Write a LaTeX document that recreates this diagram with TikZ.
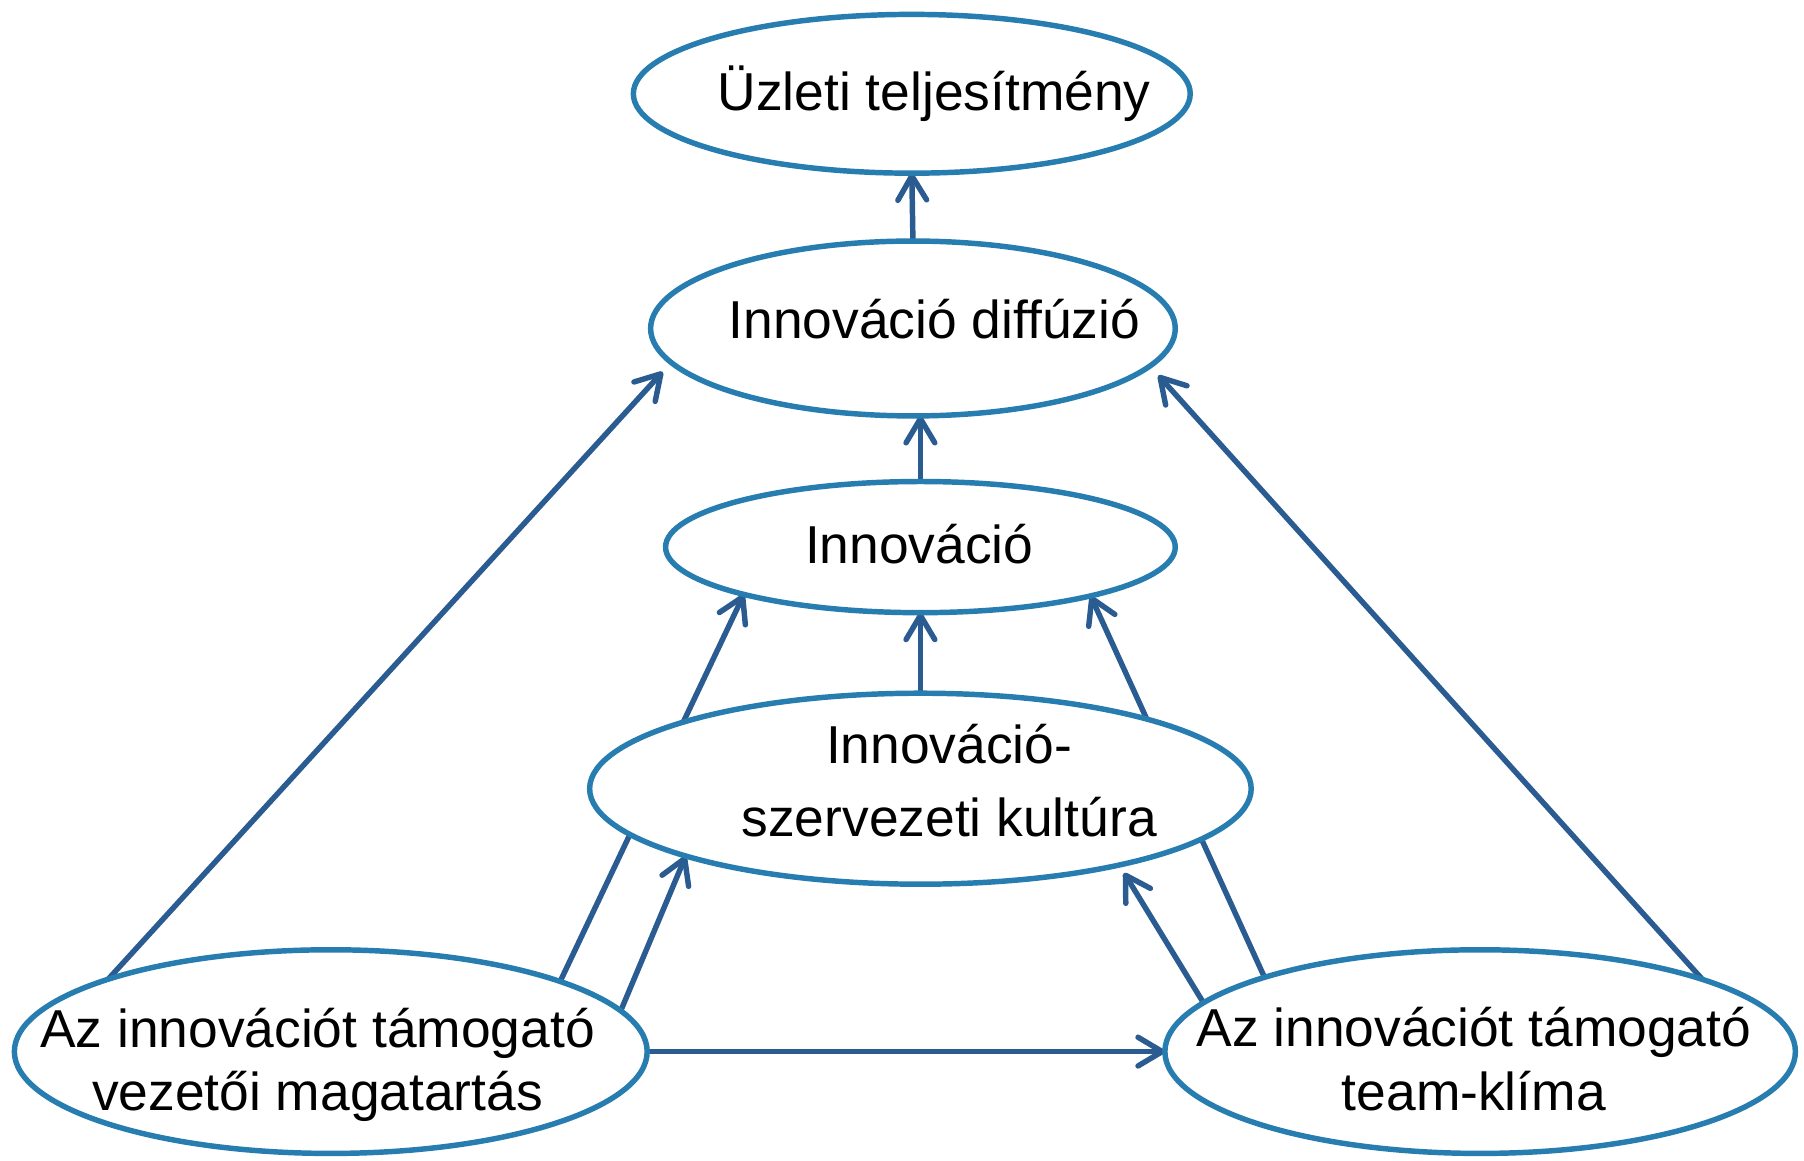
\documentclass[tikz,border=0pt]{standalone}
\usepackage{fontspec}
\setmainfont{Liberation Sans}
\usetikzlibrary{shapes.geometric,arrows.meta,backgrounds}
\definecolor{ellblue}{RGB}{40,125,176}
\definecolor{arrblue}{RGB}{42,92,145}

\tikzset{
  blob/.style={ellipse, draw=ellblue, line width=1.35pt, fill=white, inner sep=0pt, outer sep=0pt},
  txt/.style={font=\fontsize{13.2}{15.7}\selectfont, align=center, text=black},
  link/.style={draw=arrblue, line width=1.35pt, line cap=round, -{Straight Barb[length=2.1mm,width=2.5mm,round]}}
}

\begin{document}
\begin{tikzpicture}
        \useasboundingbox (0,0) rectangle (15.68,-10.09);

        % Ellipses
        \node[blob, minimum width=4.84cm, minimum height=1.38cm,
              label={[txt, xshift=0.195cm]center:{Üzleti teljesítmény}}] (perf) at (7.925,-0.815) {};
        \node[blob, minimum width=4.56cm, minimum height=1.52cm,
              label={[txt, xshift=0.185cm, yshift=0.085cm]center:{Innováció diffúzió}}] (diff) at (7.935,-2.855) {};
        \node[blob, minimum width=4.43cm, minimum height=1.14cm,
              label={[txt, xshift=-0.01cm, yshift=0.025cm]center:{Innováció}}] (innov) at (8.00,-4.755) {};
        \node[blob, minimum width=5.75cm, minimum height=1.66cm,
              label={[txt, font=\fontsize{13.2}{17.9}\selectfont, xshift=0.25cm, yshift=0.07cm]center:{Innováció-\\szervezeti kultúra}}] (cult) at (8.00,-6.855) {};
        \node[blob, minimum width=5.50cm, minimum height=1.77cm,
              label={[txt, xshift=-0.115cm, yshift=-0.115cm]center:{Az innovációt támogató\\vezetői magatartás}}] (lead) at (2.875,-9.14) {};
        \node[blob, minimum width=5.48cm, minimum height=1.77cm,
              label={[txt, xshift=-0.055cm, yshift=-0.065cm]center:{Az innovációt támogató\\team-klíma}}] (team) at (12.865,-9.14) {};

        % Arrows (behind the ellipses)
        \begin{scope}[on background layer]
            \draw[link] (diff.north) -- (perf.south);
            \draw[link] (innov.north) -- (diff.south -| innov.north);
            \draw[link] (cult.north) -- (innov.south);
            \draw[link] (lead.17.6) -- (innov.195.3);
            \draw[link] (team.161.4) -- (innov.344.8);
            \draw[link] (lead.8.7) -- (cult.196.6);
            \draw[link, shorten >=0.08cm] (team.170.5) -- (cult.339);
            \draw[link] (lead.east) -- (team.west);
            \draw[link, shorten >=0.11cm] (lead.162.5) -- (diff.188.3);
            \draw[link, shorten >=0.11cm] (team.18.3) -- (diff.351.8);
        \end{scope}
    \end{tikzpicture}
\end{document}
